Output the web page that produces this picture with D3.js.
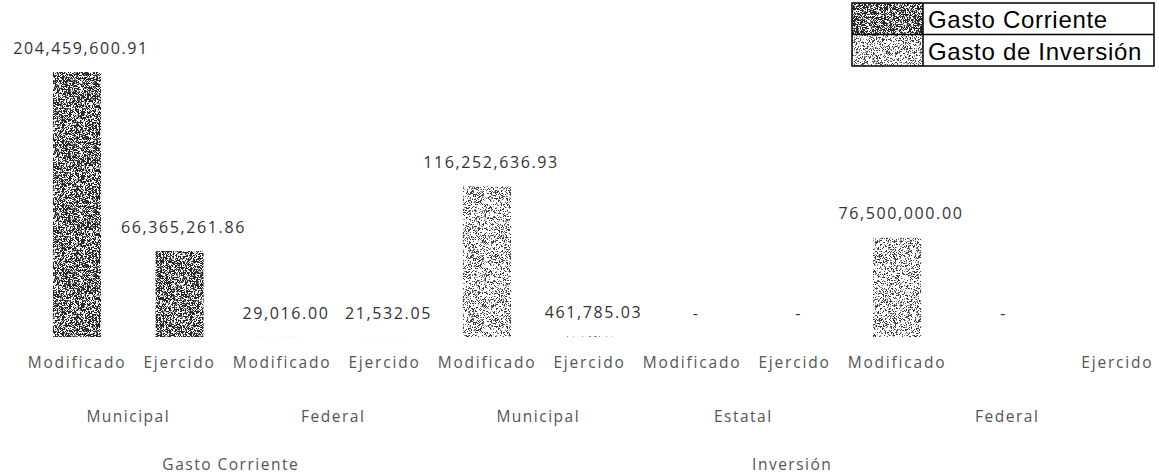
<!DOCTYPE html>
<html>
<head>
<meta charset="utf-8">
<script src="https://cdn.jsdelivr.net/npm/d3@7"></script>
<style>
  body { margin: 0; background: #fff; }
  svg { display: block; }
  text { font-family: "Open Sans", sans-serif; }
</style>
</head>
<body>
<div class="chart"></div>
<script>
// bars, left to right
const measures = ["Modificado", "Ejercido", "Modificado", "Ejercido", "Modificado", "Ejercido", "Modificado", "Ejercido", "Modificado", "Ejercido"]
const sources = ["Municipal", "Municipal", "Federal", "Federal", "Municipal", "Municipal", "Estatal", "Estatal", "Federal", "Federal"]
const groups = ["Gasto Corriente", "Gasto Corriente", "Gasto Corriente", "Gasto Corriente", "Inversión", "Inversión", "Inversión", "Inversión", "Inversión", "Inversión"]
const values = [204459600.91, 66365261.86, 29016.00, 21532.05, 116252636.93, 461785.03, 0, 0, 76500000.00, 0]

const legendItems = ["Gasto Corriente", "Gasto de Inversión"]
const groupNames = ["Gasto Corriente", "Inversión"]

const width = 1159
const height = 476

const svg = d3.select(".chart")
    .append("svg")
    .attr("width", width)
    .attr("height", height)
    .attr("viewBox", [0, 0, width, height])

// grainy fills, like the scanned print
function grain(seed, density, dark, light) {
    const size = 64
    const canvas = document.createElement("canvas")
    canvas.width = size
    canvas.height = size
    const ctx = canvas.getContext("2d")
    const img = ctx.createImageData(size, size)
    let s = seed
    const rnd = () => { s = (s * 1664525 + 1013904223) % 4294967296; return s / 4294967296 }
    for (let i = 0; i < size * size; i++) {
        const r = rnd()
        const c = r < density ? dark : (r < density + 0.12 ? 150 : light)
        img.data[i * 4] = c
        img.data[i * 4 + 1] = c
        img.data[i * 4 + 2] = c
        img.data[i * 4 + 3] = 255
    }
    ctx.putImageData(img, 0, 0)
    return canvas.toDataURL()
}

const defs = svg.append("defs")
const fills = [
    { id: "fillGC", url: grain(7, 0.5, 40, 245) },
    { id: "fillInv", url: grain(13, 0.22, 60, 255) }
]
fills.forEach(f => {
    defs.append("pattern")
        .attr("id", f.id)
        .attr("patternUnits", "userSpaceOnUse")
        .attr("width", 64)
        .attr("height", 64)
        .append("image")
        .attr("href", f.url)
        .attr("width", 64)
        .attr("height", 64)
})
const fillFor = g => g === "Gasto Corriente" ? "url(#fillGC)" : "url(#fillInv)"

const x = d3.scaleBand()
    .domain(d3.range(values.length))
    .range([25.75, 1050.75])
    .paddingInner(0.53)
    .paddingOuter(0.265)

const y = d3.scaleLinear()
    .domain([0, d3.max(values)])
    .range([337, 72])

const fmt = v => v === 0 ? "-" : d3.format(",.2f")(v)

// label x for each bar (the last Excel label sits further right)
const labelX = i => x(i) + x.bandwidth() / 2 + (i === values.length - 1 ? x.step() * 1.15 : 0)

svg.selectAll("rect.bar")
    .data(values)
    .enter()
    .append("rect")
    .attr("class", "bar")
    .attr("x", (d, i) => x(i))
    .attr("y", d => y(d))
    .attr("width", x.bandwidth())
    .attr("height", d => y(0) - y(d))
    .style("fill", (d, i) => fillFor(groups[i]))

svg.selectAll("text.value")
    .data(values)
    .enter()
    .append("text")
    .attr("class", "value")
    .attr("x", (d, i) => x(i) + x.bandwidth() / 2 + 4)
    .attr("y", d => y(d) - 24)
    .attr("dy", "0.35em")
    .attr("text-anchor", "middle")
    .style("font-size", "16px")
    .style("letter-spacing", "1.6px")
    .style("fill", "#333")
    .text(d => fmt(d))

// axis: three levels of labels
svg.selectAll("text.measure")
    .data(measures)
    .enter()
    .append("text")
    .attr("class", "measure")
    .attr("x", (d, i) => labelX(i))
    .attr("y", 363)
    .attr("dy", "0.35em")
    .attr("text-anchor", "middle")
    .style("font-size", "15.5px")
    .style("letter-spacing", "1.8px")
    .style("fill", "#555")
    .text(d => d)

const sourceSpans = []
sources.forEach((s, i) => {
    const last = sourceSpans[sourceSpans.length - 1]
    if (last && last.name === s && last.group === groups[i] && i - last.start < 2) last.end = i
    else sourceSpans.push({ name: s, group: groups[i], start: i, end: i })
})

svg.selectAll("text.source")
    .data(sourceSpans)
    .enter()
    .append("text")
    .attr("class", "source")
    .attr("x", d => (labelX(d.start) + labelX(d.end)) / 2)
    .attr("y", 417)
    .attr("dy", "0.35em")
    .attr("text-anchor", "middle")
    .style("font-size", "15.5px")
    .style("letter-spacing", "1.5px")
    .style("fill", "#555")
    .text(d => d.name)

svg.selectAll("text.group")
    .data(groupNames)
    .enter()
    .append("text")
    .attr("class", "group")
    .attr("x", g => {
        const idx = d3.range(values.length).filter(i => groups[i] === g)
        return (labelX(idx[0]) + labelX(idx[idx.length - 1])) / 2 - (g === "Inversión" ? 10 : 0)
    })
    .attr("y", 465)
    .attr("dy", "0.35em")
    .attr("text-anchor", "middle")
    .style("font-size", "15.5px")
    .style("letter-spacing", "1.5px")
    .style("fill", "#555")
    .text(d => d)

// legend
const legend = svg.append("g").attr("transform", "translate(852,3)")
const rowH = 31.5
const boxW = 302
const swatchW = 71
legend.selectAll("rect.swatch")
    .data(legendItems)
    .enter()
    .append("rect")
    .attr("class", "swatch")
    .attr("x", 0)
    .attr("y", (d, i) => i * rowH)
    .attr("width", swatchW)
    .attr("height", rowH)
    .style("fill", (d, i) => i === 0 ? "url(#fillGC)" : "url(#fillInv)")

legend.append("rect")
    .attr("width", boxW)
    .attr("height", rowH * 2)
    .style("fill", "none")
    .style("stroke", "#000")
    .style("stroke-width", 1.5)
legend.append("line")
    .attr("x1", 0).attr("x2", boxW)
    .attr("y1", rowH).attr("y2", rowH)
    .style("stroke", "#000")
    .style("stroke-width", 1.5)
legend.append("line")
    .attr("x1", swatchW).attr("x2", swatchW)
    .attr("y1", 0).attr("y2", rowH * 2)
    .style("stroke", "#000")
    .style("stroke-width", 1.5)

legend.selectAll("text.item")
    .data(legendItems)
    .enter()
    .append("text")
    .attr("class", "item")
    .attr("x", swatchW + 5)
    .attr("y", (d, i) => i * rowH + rowH / 2 + 1)
    .attr("dy", "0.35em")
    .style("font-family", "'Liberation Sans', Arial, sans-serif")
    .style("font-size", "24px")
    .style("letter-spacing", "0.7px")
    .style("fill", "#000")
    .text(d => d)
</script>
</body>
</html>
